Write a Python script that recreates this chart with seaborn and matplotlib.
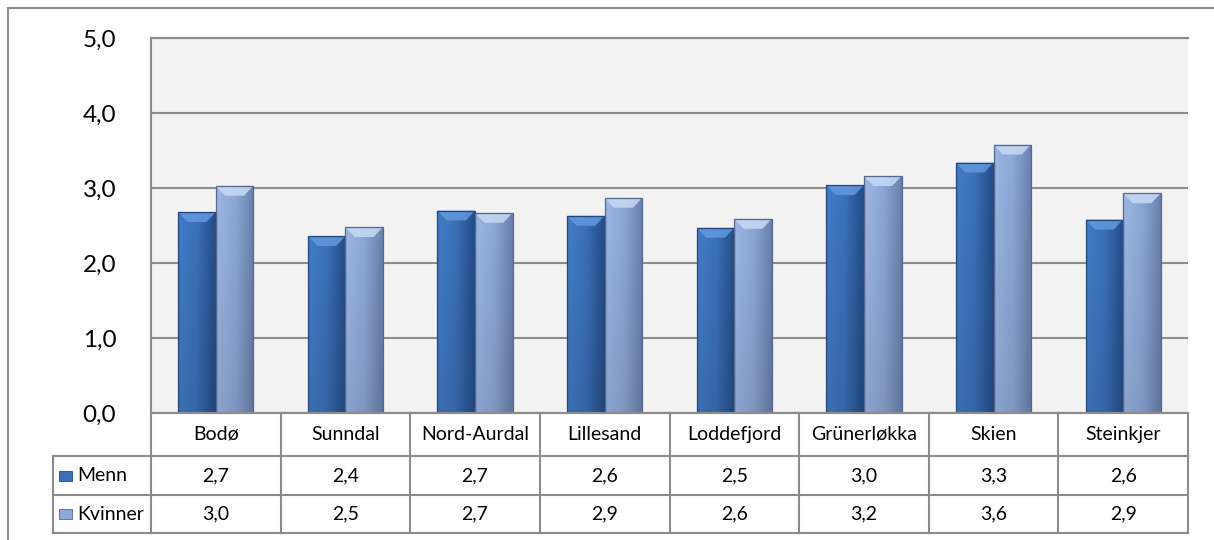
import numpy as np
import pandas as pd
import matplotlib
matplotlib.use("Agg")
import matplotlib.pyplot as plt
import seaborn as sns
from matplotlib.patches import Polygon, Rectangle
from matplotlib.lines import Line2D
from matplotlib.colors import to_rgb

# ---------------- data ----------------
categories = ["Bodø", "Sunndal", "Nord-Aurdal", "Lillesand", "Loddefjord",
              "Grünerløkka", "Skien", "Steinkjer"]
menn = [2.68, 2.36, 2.70, 2.63, 2.47, 3.04, 3.34, 2.58]
kvinner = [3.03, 2.48, 2.67, 2.87, 2.59, 3.16, 3.58, 2.93]
series = ["Menn", "Kvinner"]
yticks = [0, 1, 2, 3, 4, 5]

# ---------------- style ----------------
sns.set_theme(style="white")
plt.rcParams['font.family'] = ['Lato', 'DejaVu Sans']

GRID = "#8C8C8C"
body = {"Menn": ["#427CC6", "#3B70B8", "#244C86"],
        "Kvinner": ["#9CB7E4", "#8DA8D6", "#6A80AC"]}
bevel = {"Menn": "#6299DE", "Kvinner": "#C8DAF4"}
edge = {"Menn": "#22457A", "Kvinner": "#55678C"}
pal = {s: body[s][1] for s in series}

W, H = 1214, 540
fig = plt.figure(figsize=(W / 100, H / 100), dpi=100)
fig.patch.set_facecolor("white")


def fx(px):
    return px / W


def fy(py):
    return 1 - py / H


L, R, T, B = 151, 1188, 38, 413
ax = fig.add_axes([fx(L), fy(B), (R - L) / W, (B - T) / H])

df = pd.DataFrame({
    "Kommune": categories * 2,
    "Kjønn": [series[0]] * len(categories) + [series[1]] * len(categories),
    "Verdi": menn + kvinner,
})
sns.barplot(data=df, x="Kommune", y="Verdi", hue="Kjønn", hue_order=series,
            order=categories, palette=pal, width=0.58, ax=ax, legend=False,
            errorbar=None)

ax.set_facecolor("#F2F2F2")
ax.set_axisbelow(True)
ax.set_ylim(0, 5)
ax.set_xlim(-0.5, len(categories) - 0.5)

# gradient fill + bevel for each bar
px_per_y = (B - T) / 5.0
px_per_x = (R - L) / len(categories)
n = len(categories)
for i, p in enumerate(list(ax.patches)[:2 * n]):
    s = series[i // n]
    x0, w, h = p.get_x(), p.get_width(), p.get_height()
    c = [np.array(to_rgb(k)) for k in body[s]]
    t = np.linspace(0, 1, 40)
    row = np.array([c[0] + (c[1] - c[0]) * (tt / 0.5) if tt < 0.5 else
                    c[1] + (c[2] - c[1]) * ((tt - 0.5) / 0.5) for tt in t])
    v = np.linspace(1.0, 0.9, 30)[:, None, None]
    img = np.clip(row[None, :, :] * v, 0, 1)
    im = ax.imshow(img, extent=[x0, x0 + w, 0, h], aspect="auto",
                   origin="upper", zorder=1.5, interpolation="bilinear")
    im.set_clip_path(p)
    p.set_facecolor("none")
    p.set_edgecolor(edge[s])
    p.set_linewidth(0.9)
    p.set_zorder(2)
    dy = 10 / px_per_y
    dx = 0.25 * w
    ax.add_patch(Polygon([[x0, h], [x0 + w, h], [x0 + w - dx, h - dy],
                          [x0 + dx, h - dy]], closed=True,
                         facecolor=bevel[s], edgecolor="none", alpha=0.85,
                         zorder=1.7))

ax.set_xlim(-0.5, len(categories) - 0.5)
ax.set_ylim(0, 5)
ax.set_yticks(yticks)
ax.set_yticklabels([f"{v:.1f}".replace(".", ",") for v in yticks])
ax.tick_params(axis="y", length=0, pad=25, labelsize=17.5, labelcolor="black")
ax.set_xticks([])
ax.set_xlabel("")
ax.set_ylabel("")
ax.yaxis.grid(True, color=GRID, linewidth=1.5)
ax.xaxis.grid(False)
for side in ["left", "top", "bottom"]:
    ax.spines[side].set_visible(True)
    ax.spines[side].set_color(GRID)
    ax.spines[side].set_linewidth(1.5)
ax.spines["right"].set_visible(False)

# ---------------- data table ----------------
TL, TB = 53, 533
tax = fig.add_axes([fx(TL), fy(TB), (R - TL) / W, (TB - B) / H])
xmin = -0.5 - (L - TL) / px_per_x
xmax = len(categories) - 0.5
tax.set_xlim(xmin, xmax)
tax.set_ylim(0, 1)
tax.axis("off")
tot = TB - B
y_head = 1 - 43 / tot
y_menn = 1 - 82 / tot
lk = dict(color=GRID, linewidth=1.5, clip_on=False, solid_capstyle="projecting")
for k in range(len(categories) + 1):
    tax.plot([-0.5 + k, -0.5 + k], [0, 1], **lk)
tax.plot([xmin, xmin], [0, y_head], **lk)
for yy in [0, y_menn, y_head]:
    tax.plot([xmin, xmax], [yy, yy], **lk)
tax.plot([-0.5, xmax], [1, 1], **lk)

FS = 14
for j, cat in enumerate(categories):
    tax.text(j, (1 + y_head) / 2, cat, ha="center", va="center",
             fontsize=FS, color="black")
rows = [(menn, (y_head + y_menn) / 2), (kvinner, y_menn / 2)]
for (vals, yc), s in zip(rows, series):
    for j, v in enumerate(vals):
        tax.text(j, yc, f"{v:.1f}".replace(".", ","), ha="center",
                 va="center", fontsize=FS, color="black")
    kx = xmin + 6 / px_per_x
    kw = 13 / px_per_x
    kh = 10 / tot
    tax.add_patch(Rectangle((kx, yc - kh / 2), kw, kh, facecolor=body[s][1],
                            edgecolor=edge[s], linewidth=0.6, clip_on=False))
    tax.text(xmin + 24 / px_per_x, yc, s, ha="left", va="center",
             fontsize=FS, color="black")

# ---------------- outer chart frame ----------------
fig.add_artist(Line2D([fx(8), fx(1214)], [fy(8), fy(8)], color=GRID,
                      linewidth=1.5, transform=fig.transFigure))
fig.add_artist(Line2D([fx(8), fx(8)], [fy(8), fy(560)], color=GRID,
                      linewidth=1.5, transform=fig.transFigure))

fig.savefig("out.png", dpi=100)
